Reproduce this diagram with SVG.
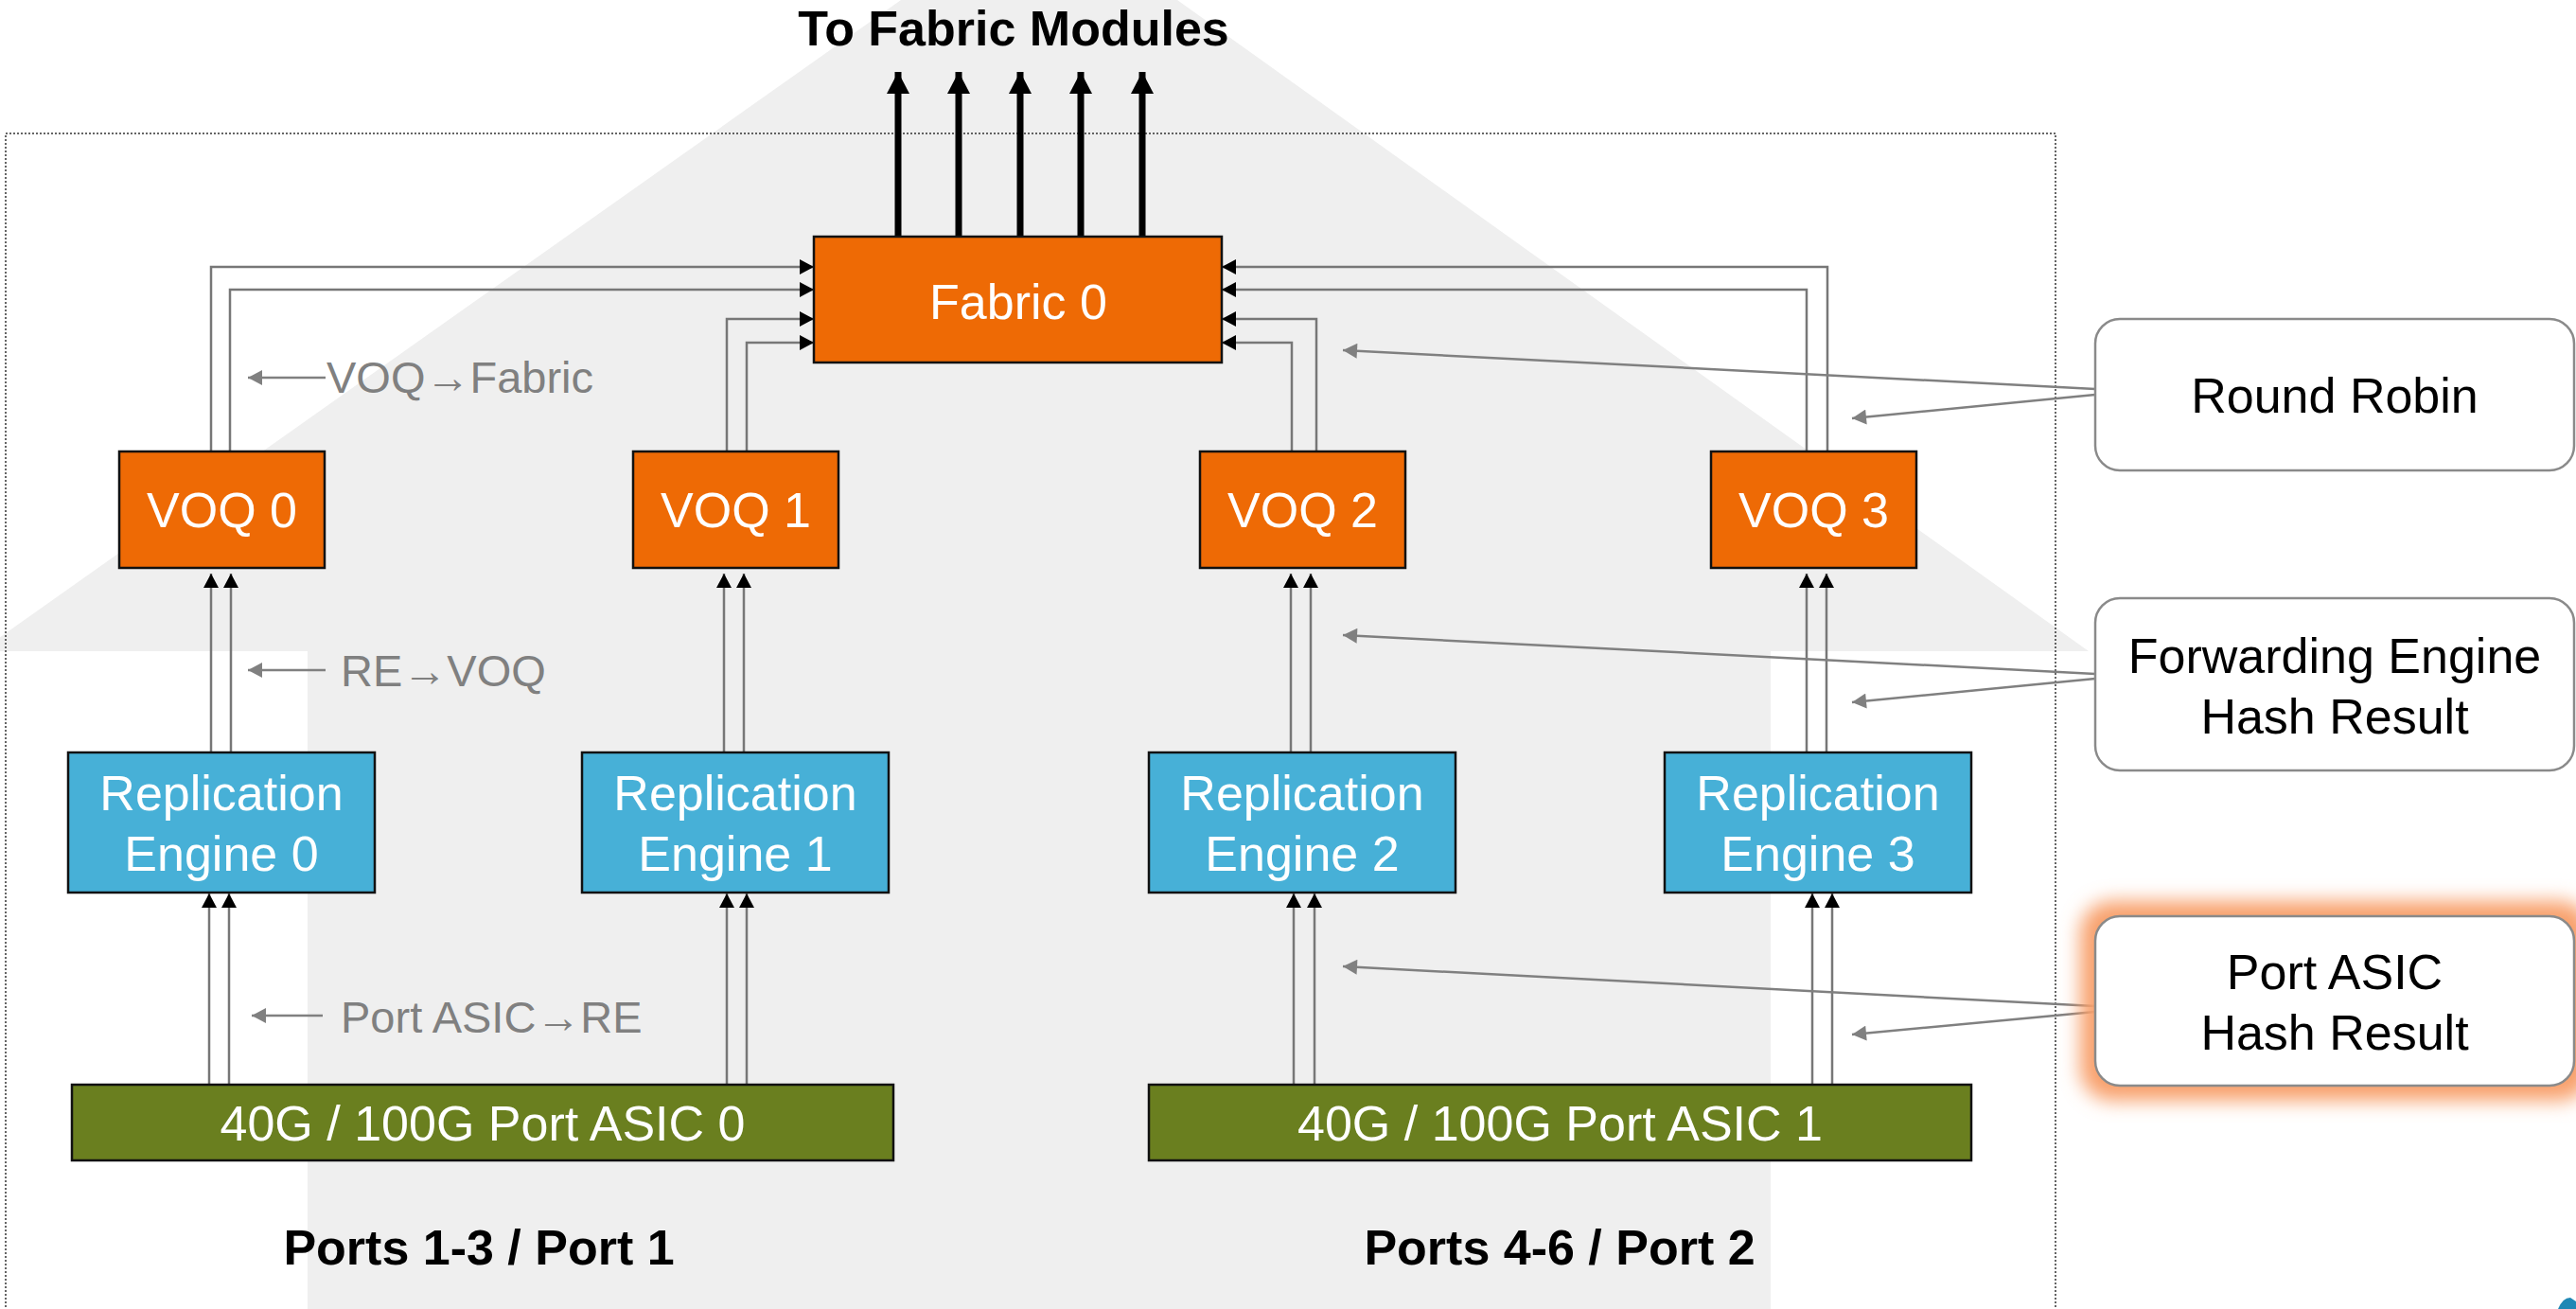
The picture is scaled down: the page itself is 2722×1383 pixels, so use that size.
<svg xmlns="http://www.w3.org/2000/svg" width="2722" height="1383" viewBox="0 0 2722 1383">
<defs>
<style>
.box{stroke:#111;stroke-width:2.5}
.orange{fill:#EE6A05}
.blue{fill:#47B0D7}
.green{fill:#6A7F1F}
.wt{font-family:"Liberation Sans",Arial,sans-serif;font-size:52px;fill:#fff;text-anchor:middle}
.bt{font-family:"Liberation Sans",Arial,sans-serif;font-size:52px;fill:#000;text-anchor:middle}
.bold{font-family:"Liberation Sans",Arial,sans-serif;font-size:52px;font-weight:bold;fill:#000;text-anchor:middle}
.gt{font-family:"Liberation Sans",Arial,sans-serif;font-size:47px;fill:#808080}
.side{fill:#fff;stroke:#8a8a8a;stroke-width:2.5}
.conn{fill:none;stroke:#777;stroke-width:2.5}
.hash{fill:none;stroke:#808080;stroke-width:2.5}
.up{fill:none;stroke:#000;stroke-width:7}
</style>
<marker id="ah" markerUnits="userSpaceOnUse" markerWidth="16" markerHeight="16" viewBox="0 0 15 16" refX="15" refY="8" orient="auto">
<path d="M0,0 L15,8 L0,16 Z" fill="#000"/>
</marker>
<marker id="gh" markerUnits="userSpaceOnUse" markerWidth="16" markerHeight="16" viewBox="0 0 15 16" refX="15" refY="8" orient="auto">
<path d="M0,0 L15,8 L0,16 Z" fill="#808080"/>
</marker>
<marker id="bh" markerUnits="userSpaceOnUse" markerWidth="24" markerHeight="24" viewBox="0 0 23 24" refX="23" refY="12" orient="auto">
<path d="M0,0 L23,12 L0,24 Z" fill="#000"/>
</marker>
<filter id="glow" x="-30%" y="-50%" width="160%" height="200%">
<feGaussianBlur stdDeviation="10"/>
</filter>
</defs>

<g id="background">
<polygon points="952,0 1244,0 2207,688 1871,688 1871,1383 325,1383 325,688 -21,688" fill="#EFEFEF"/>
<rect x="6" y="141" width="2166" height="1300" fill="none" stroke="#333" stroke-width="1.5" stroke-dasharray="2 2"/>
<path d="M2703,1383 Q2708,1371 2716,1371 L2722,1375 V1383 Z" fill="#1F88B5"/>
</g>

<g id="connectors">
<path class="up" d="M949,250 V76" marker-end="url(#bh)"/>
<path class="up" d="M1013,250 V76" marker-end="url(#bh)"/>
<path class="up" d="M1078,250 V76" marker-end="url(#bh)"/>
<path class="up" d="M1142,250 V76" marker-end="url(#bh)"/>
<path class="up" d="M1207,250 V76" marker-end="url(#bh)"/>

<path class="conn" d="M223,477 V282 H860" marker-end="url(#ah)"/>
<path class="conn" d="M243,477 V306 H860" marker-end="url(#ah)"/>
<path class="conn" d="M768,477 V337 H860" marker-end="url(#ah)"/>
<path class="conn" d="M789,477 V362 H860" marker-end="url(#ah)"/>
<path class="conn" d="M1931,477 V282 H1291" marker-end="url(#ah)"/>
<path class="conn" d="M1909,477 V306 H1291" marker-end="url(#ah)"/>
<path class="conn" d="M1391,477 V337 H1291" marker-end="url(#ah)"/>
<path class="conn" d="M1365,477 V362 H1291" marker-end="url(#ah)"/>

<path class="conn" d="M223,795 V606" marker-end="url(#ah)"/>
<path class="conn" d="M244,795 V606" marker-end="url(#ah)"/>
<path class="conn" d="M765,795 V606" marker-end="url(#ah)"/>
<path class="conn" d="M786,795 V606" marker-end="url(#ah)"/>
<path class="conn" d="M1364,795 V606" marker-end="url(#ah)"/>
<path class="conn" d="M1385,795 V606" marker-end="url(#ah)"/>
<path class="conn" d="M1909,795 V606" marker-end="url(#ah)"/>
<path class="conn" d="M1930,795 V606" marker-end="url(#ah)"/>

<path class="conn" d="M221,1146 V944" marker-end="url(#ah)"/>
<path class="conn" d="M242,1146 V944" marker-end="url(#ah)"/>
<path class="conn" d="M768,1146 V944" marker-end="url(#ah)"/>
<path class="conn" d="M789,1146 V944" marker-end="url(#ah)"/>
<path class="conn" d="M1367,1146 V944" marker-end="url(#ah)"/>
<path class="conn" d="M1389,1146 V944" marker-end="url(#ah)"/>
<path class="conn" d="M1915,1146 V944" marker-end="url(#ah)"/>
<path class="conn" d="M1936,1146 V944" marker-end="url(#ah)"/>

<path class="hash" d="M344,399 H262" marker-end="url(#gh)"/>
<path class="hash" d="M344,708 H262" marker-end="url(#gh)"/>
<path class="hash" d="M341,1073 H266" marker-end="url(#gh)"/>

<path class="hash" d="M2214,411 L1419,370" marker-end="url(#gh)"/>
<path class="hash" d="M2214,417 L1957,442" marker-end="url(#gh)"/>
<path class="hash" d="M2214,712 L1419,671" marker-end="url(#gh)"/>
<path class="hash" d="M2214,717 L1957,742" marker-end="url(#gh)"/>
<path class="hash" d="M2214,1063 L1419,1021" marker-end="url(#gh)"/>
<path class="hash" d="M2214,1069 L1957,1093" marker-end="url(#gh)"/>
</g>

<g id="labels">
<text class="bold" x="1071" y="48">To Fabric Modules</text>
<text class="gt" x="345" y="415">VOQ→Fabric</text>
<text class="gt" x="360" y="725">RE→VOQ</text>
<text class="gt" x="360" y="1091">Port ASIC→RE</text>
<text class="bold" x="506" y="1336">Ports 1-3 / Port 1</text>
<text class="bold" x="1648" y="1336">Ports 4-6 / Port 2</text>
</g>

<g id="fabric0">
<rect class="box orange" x="860" y="250" width="431" height="133"/>
<text class="wt" x="1076" y="337">Fabric 0</text>
</g>

<g id="voq0"><rect class="box orange" x="126" y="477" width="217" height="123"/><text class="wt" x="234.5" y="557">VOQ 0</text></g>
<g id="voq1"><rect class="box orange" x="669" y="477" width="217" height="123"/><text class="wt" x="777.5" y="557">VOQ 1</text></g>
<g id="voq2"><rect class="box orange" x="1268" y="477" width="217" height="123"/><text class="wt" x="1376.5" y="557">VOQ 2</text></g>
<g id="voq3"><rect class="box orange" x="1808" y="477" width="217" height="123"/><text class="wt" x="1916.5" y="557">VOQ 3</text></g>

<g id="re0"><rect class="box blue" x="72" y="795" width="324" height="148"/><text class="wt" x="234" y="856">Replication</text><text class="wt" x="234" y="920">Engine 0</text></g>
<g id="re1"><rect class="box blue" x="615" y="795" width="324" height="148"/><text class="wt" x="777" y="856">Replication</text><text class="wt" x="777" y="920">Engine 1</text></g>
<g id="re2"><rect class="box blue" x="1214" y="795" width="324" height="148"/><text class="wt" x="1376" y="856">Replication</text><text class="wt" x="1376" y="920">Engine 2</text></g>
<g id="re3"><rect class="box blue" x="1759" y="795" width="324" height="148"/><text class="wt" x="1921" y="856">Replication</text><text class="wt" x="1921" y="920">Engine 3</text></g>

<g id="asic0"><rect class="box green" x="76" y="1146" width="868" height="80"/><text class="wt" x="510" y="1205">40G / 100G Port ASIC 0</text></g>
<g id="asic1"><rect class="box green" x="1214" y="1146" width="869" height="80"/><text class="wt" x="1648.5" y="1205">40G / 100G Port ASIC 1</text></g>

<g id="round-robin">
<rect class="side" x="2214" y="337" width="506" height="160" rx="26"/>
<text class="bt" x="2467" y="436">Round Robin</text>
</g>
<g id="fe-hash">
<rect class="side" x="2214" y="632" width="506" height="182" rx="26"/>
<text class="bt" x="2467" y="711">Forwarding Engine</text>
<text class="bt" x="2467" y="775">Hash Result</text>
</g>
<g id="asic-hash">
<rect x="2198" y="952" width="540" height="211" rx="34" fill="#F8A06C" filter="url(#glow)"/>
<rect class="side" x="2214" y="968" width="506" height="179" rx="26"/>
<text class="bt" x="2467" y="1045">Port ASIC</text>
<text class="bt" x="2467" y="1109">Hash Result</text>
</g>
</svg>
